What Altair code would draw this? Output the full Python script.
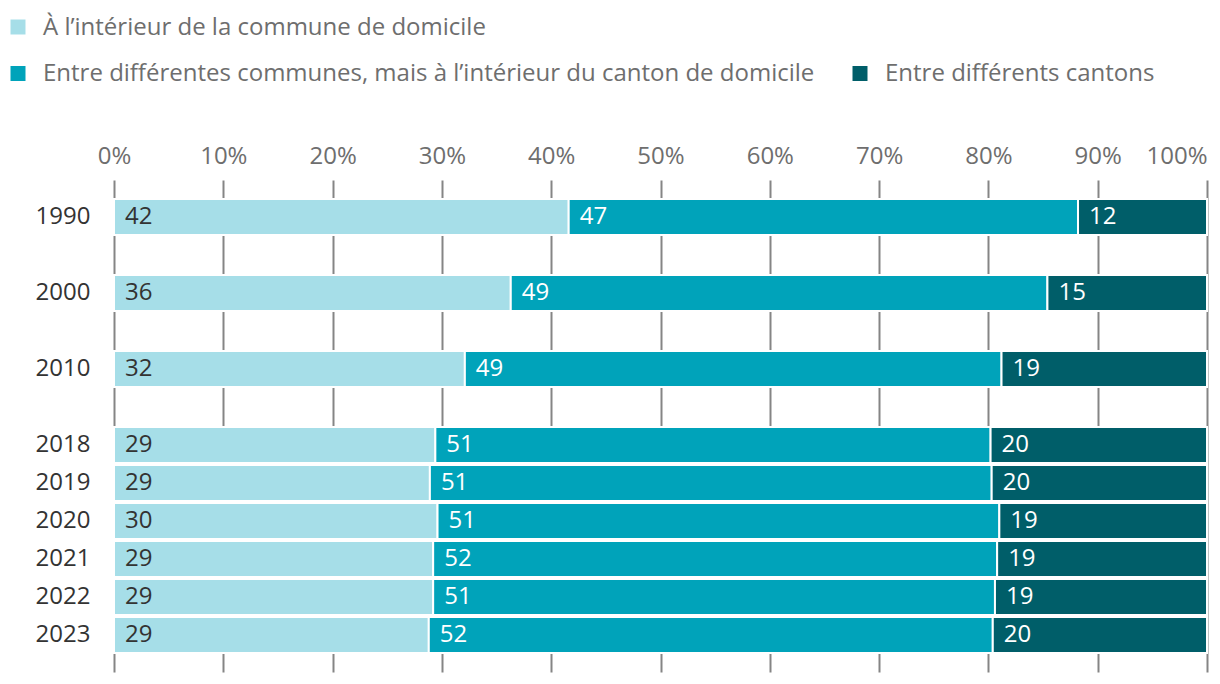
import altair as alt
import pandas as pd

years = ["1990", "2000", "2010", "2018", "2019", "2020", "2021", "2022", "2023"]
rows = ["1990", " ", "2000", "  ", "2010", "   ", "2018", "2019", "2020", "2021", "2022", "2023"]
categories = [
    "À l’intérieur de la commune de domicile",
    "Entre différentes communes, mais à l’intérieur du canton de domicile",
    "Entre différents cantons",
]
colors = ["#a6dee8", "#00a3ba", "#005e69"]
s_commune = [41.6, 36.3, 32.1, 29.4, 28.9, 29.6, 29.2, 29.2, 28.8]
s_canton = [46.6, 49.1, 49.1, 50.8, 51.4, 51.4, 51.6, 51.4, 51.6]
s_inter = [11.8, 14.6, 18.8, 19.8, 19.7, 19.0, 19.2, 19.4, 19.6]
x_ticks = [0, 10, 20, 30, 40, 50, 60, 70, 80, 90, 100]

recs = []
for i, y in enumerate(years):
    start = 0.0
    for k, vals in enumerate([s_commune, s_canton, s_inter]):
        v = vals[i]
        recs.append({"year": y, "cat": categories[k], "k": k, "v": v,
                     "start": start, "end": start + v, "lab": str(int(v + 0.5))})
        start += v
df = pd.DataFrame(recs)

FONT = "Open Sans"
FS = 24
W, H = 1093, 492

yscale = alt.Scale(domain=rows, paddingInner=2 / 38, paddingOuter=0.5)
xscale = alt.Scale(domain=[0, 100], nice=False)
xaxis = alt.Axis(orient="top", values=x_ticks, title=None, grid=True,
                 gridColor="#858585", gridWidth=2, ticks=False, domain=False,
                 labelExpr="datum.value + '%'", labelFontSize=FS,
                 labelColor="#6e6e6e", labelFont=FONT, labelPadding=12,
                 labelAlign={"condition": {"test": "datum.value == 100", "value": "right"},
                             "value": "center"})
yaxis = alt.Axis(title=None, ticks=False, domain=False, labelPadding=24,
                 labelFontSize=FS, labelColor="#333333", labelFont=FONT)

base = alt.Chart(df)
bars = base.mark_bar(stroke="white", strokeWidth=2).encode(
    x=alt.X("start:Q", scale=xscale, axis=xaxis),
    x2="end:Q",
    y=alt.Y("year:N", scale=yscale, axis=yaxis),
    color=alt.Color("cat:N", scale=alt.Scale(domain=categories, range=colors), legend=None),
)
texts = base.mark_text(align="left", baseline="middle", dx=11, fontSize=FS, font=FONT).encode(
    x=alt.X("start:Q", scale=xscale, axis=xaxis),
    y=alt.Y("year:N", scale=yscale, axis=yaxis),
    text="lab:N",
    color=alt.condition(alt.datum.k == 0, alt.value("#333333"), alt.value("#ffffff")),
)

one = alt.Data(values=[{"a": 1}])
leg_pos = [(-96, -153), (-96, -106.5), (746, -106.5)]
legend_layers = []
for (lx, ly), cat, col in zip(leg_pos, categories, colors):
    legend_layers.append(alt.Chart(one).mark_square(size=225, opacity=1).encode(
        x=alt.value(lx), y=alt.value(ly), color=alt.value(col)))
    legend_layers.append(alt.Chart(one).mark_text(align="left", baseline="middle", fontSize=FS,
                                                  font=FONT, color="#6e6e6e").encode(
        x=alt.value(lx + 25), y=alt.value(ly + 0.5), text=alt.value(cat)))

chart = alt.layer(bars, texts, *legend_layers).properties(
    width=W, height=H,
    autosize=alt.AutoSizeParams(type="none"),
    padding={"left": 106, "top": 172, "right": 5, "bottom": 5},
).configure(font=FONT).configure_view(strokeWidth=0, stroke="transparent").configure_axis(domain=False)

chart.save("out.html", embed_options={"renderer": "svg", "actions": False})
